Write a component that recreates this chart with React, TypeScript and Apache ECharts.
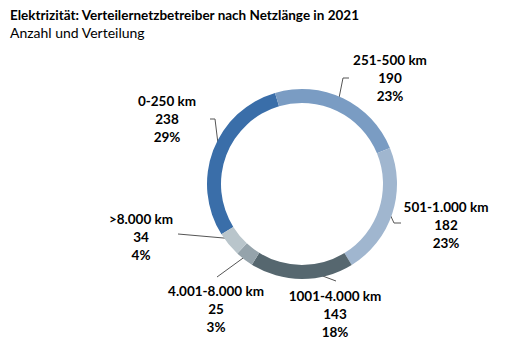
import React, { useEffect, useRef } from "react";
import * as echarts from "echarts";

const categories = ["0-250 km", "251-500 km", "501-1.000 km", "1001-4.000 km", "4.001-8.000 km", ">8.000 km"];
const values = [238, 190, 182, 143, 25, 34];
const colors = ["#3a6ea9", "#7a9cc3", "#a0b6cf", "#56676f", "#95a3ab", "#b9c5cb"];
// label centre positions (px)
const labelPos: [number, number][] = [
  [167, 100],
  [390, 59],
  [446, 206],
  [335, 295],
  [216, 290],
  [141, 218],
];
// guide line points (annotation)
const guides: number[][][] = [
  [[219, 152], [215, 119], [210, 119]],
  [[338, 103], [343, 78], [349, 78]],
  [[388, 210], [394, 223], [401, 223]],
  [[320, 275], [336, 281]],
  [[250, 253], [217, 277]],
  [[235, 239], [178, 234]],
];

export default function App() {
  const ref = useRef<HTMLDivElement>(null);
  useEffect(() => {
    const chart = echarts.init(ref.current!, null, { renderer: "svg" });
    const font = "Lato, 'Open Sans', sans-serif";
    chart.setOption({
      animation: false,
      title: {
        text: "Elektrizität: Verteilernetzbetreiber nach Netzlänge in 2021",
        subtext: "Anzahl und Verteilung",
        left: 5,
        top: 3,
        itemGap: 3,
        textStyle: { fontFamily: font, fontSize: 13.5, fontWeight: "bold", color: "#000" },
        subtextStyle: { fontFamily: font, fontSize: 14, color: "#000" },
      },
      series: [
        {
          type: "pie",
          center: [302, 184],
          radius: [81, 95],
          startAngle: 212,
          clockwise: true,
          percentPrecision: 0,
          avoidLabelOverlap: false,
          data: categories.map((c, i) => ({ name: c, value: values[i], itemStyle: { color: colors[i] } })),
          label: {
            show: true,
            position: "outside",
            formatter: "{b}\n{c}\n{d}%",
            fontFamily: font,
            fontSize: 13.5,
            fontWeight: "bold",
            color: "#000",
            lineHeight: 18,
            align: "center",
          },
          labelLine: {
            show: true,
            length: 10,
            length2: 6,
            lineStyle: { color: "#555", width: 1 },
          },
          labelLayout: (p: any) => {
            const [x, y] = labelPos[p.dataIndex];
            return { x, y: y - 8, align: "center", verticalAlign: "top", labelLinePoints: guides[p.dataIndex] };
          },
        },
      ],
    });
    return () => chart.dispose();
  }, []);
  return <div ref={ref} style={{ position: "fixed", left: 0, top: 0, width: 530, height: 352, background: "#fff" }} />;
}
